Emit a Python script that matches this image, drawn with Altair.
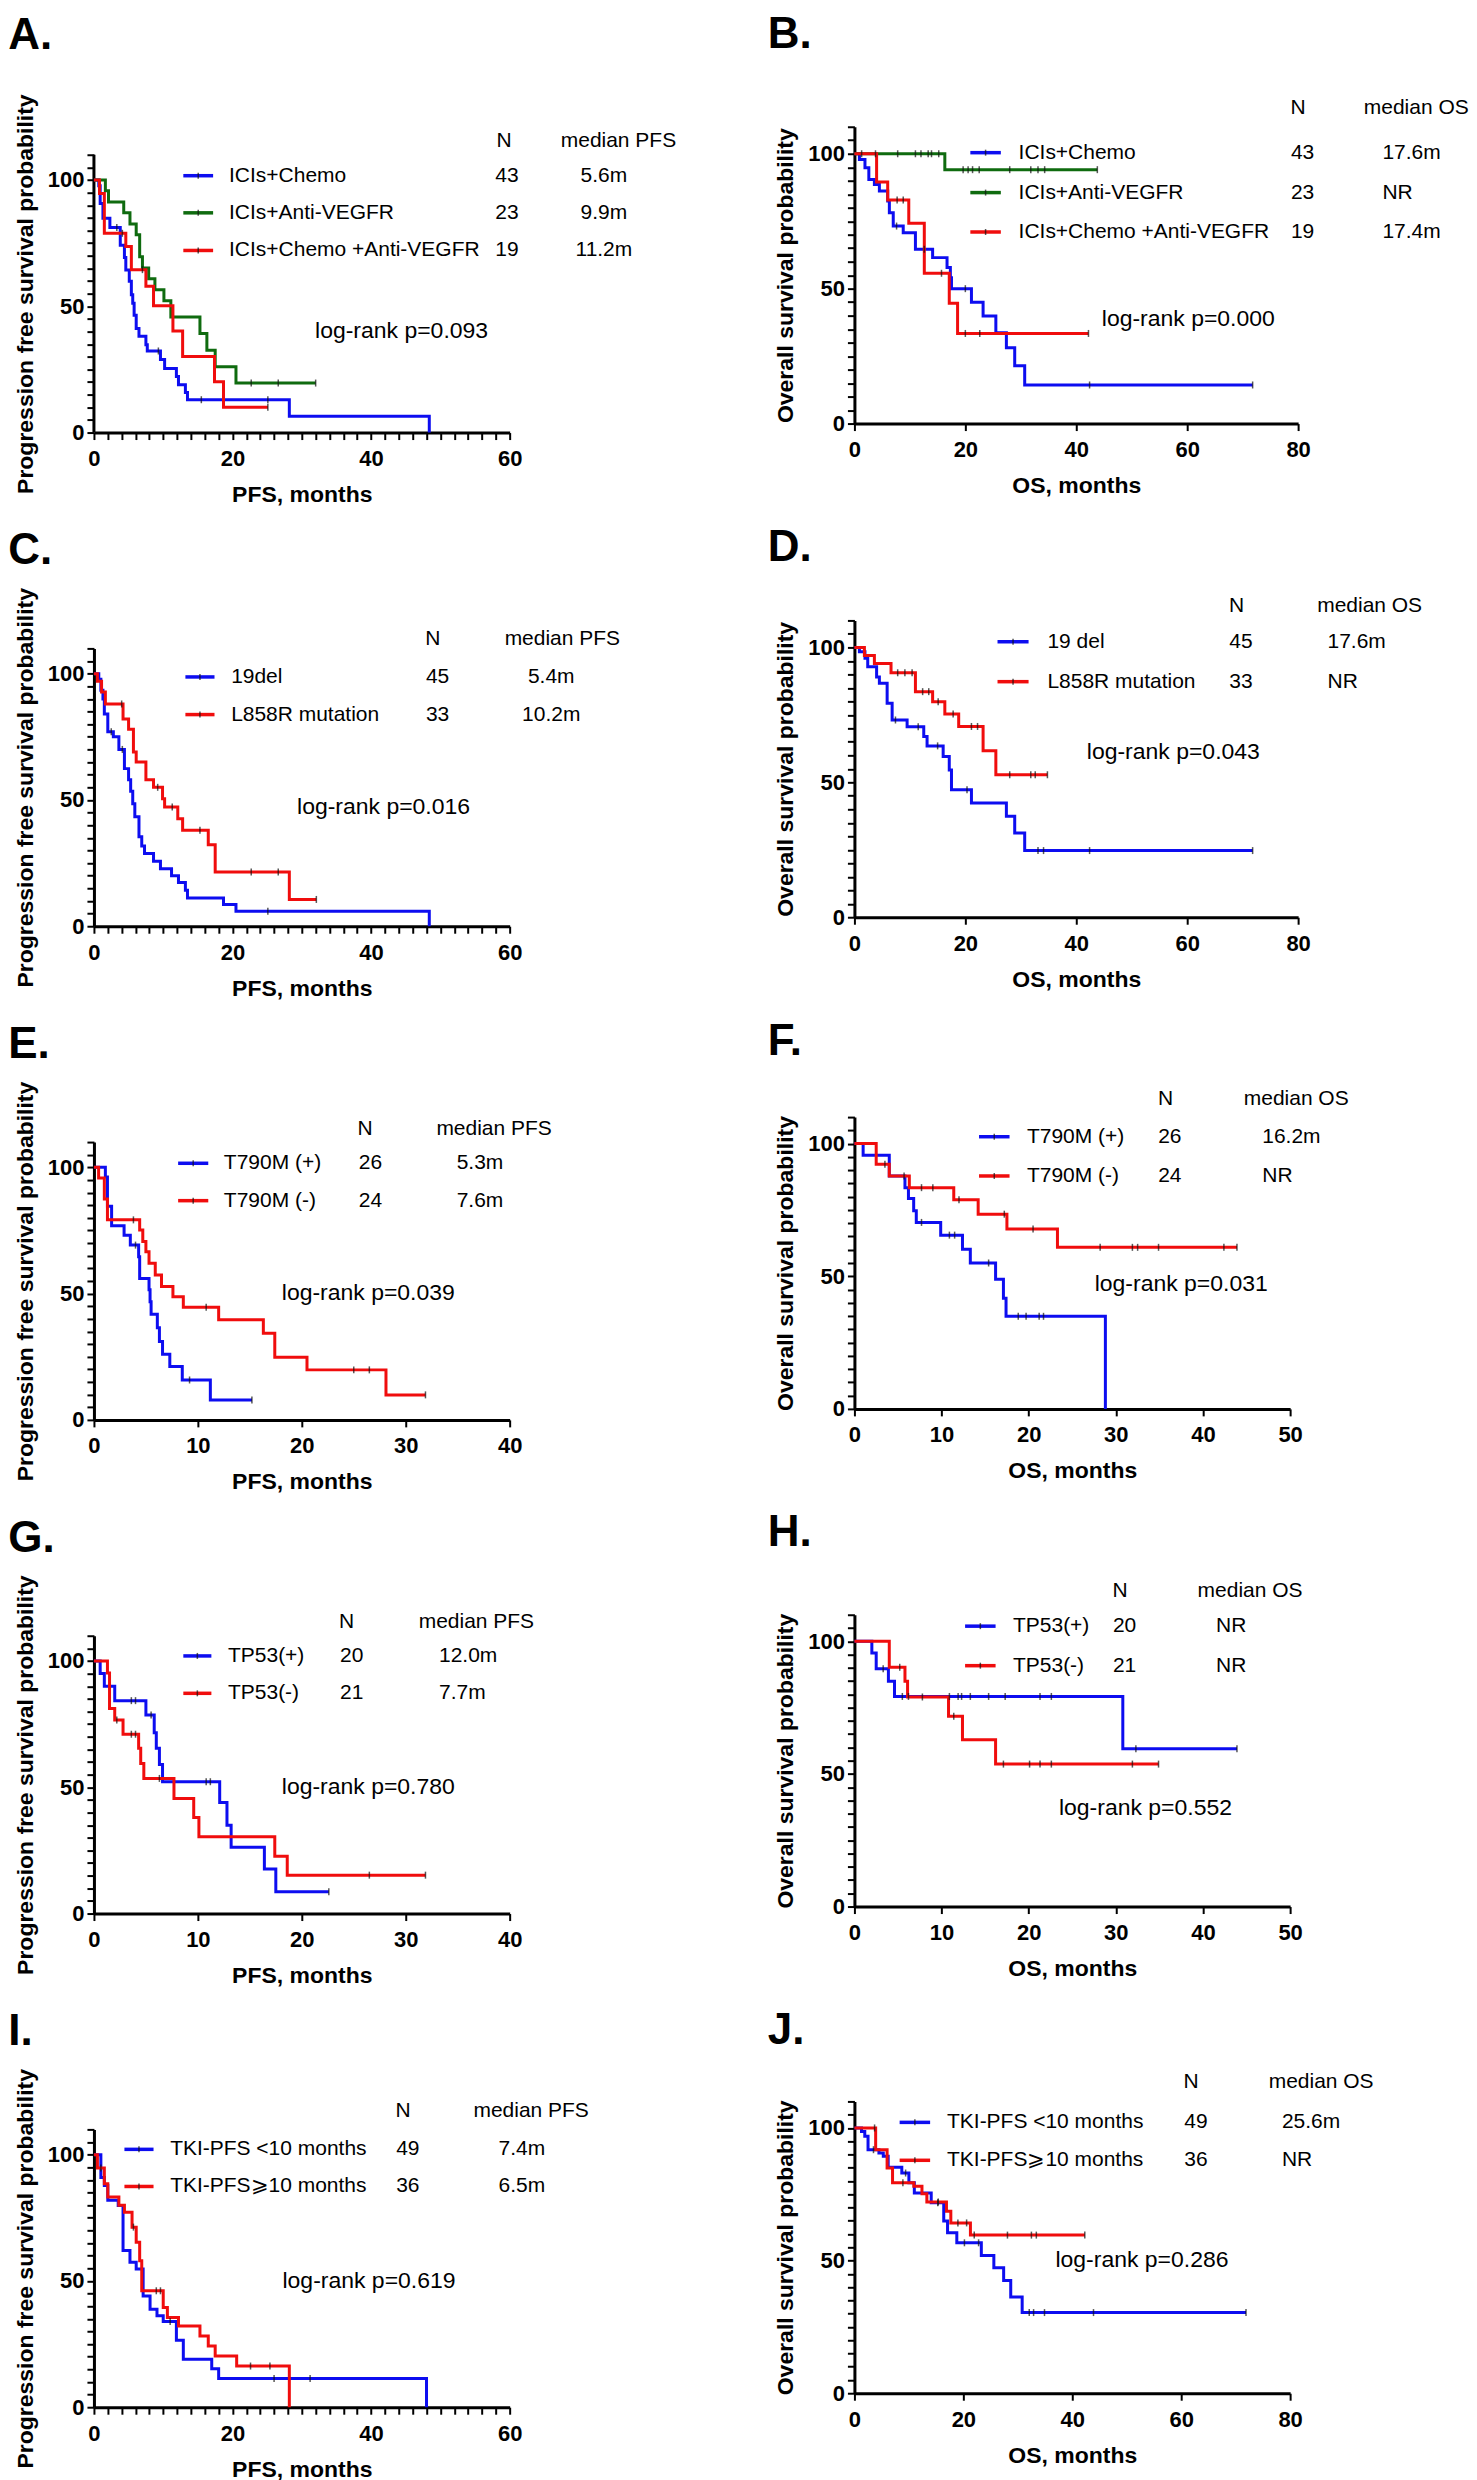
import altair as alt
import pandas as pd

FONT = "Liberation Sans"
BLUE, RED, GREEN = "#0d0df0", "#f00d0d", "#0f6b0f"

# ---------------- Panel A : PFS by treatment ----------------
A_blue_t = [0, 0.7, 0.9, 1.3, 2.3, 3.8, 4.4, 4.6, 5.1, 5.4, 5.6, 5.8, 6.1, 6.5, 7.5, 7.7, 9.6, 10.2, 11.9, 12.2, 13.2, 13.5, 28.2, 48.4]
A_blue_s = [100, 97.7, 90.7, 84.9, 81.2, 74.2, 69.3, 64.4, 59.9, 54.6, 51.2, 46.4, 41.2, 38.1, 34.8, 32.3, 28.9, 25.4, 22.2, 18.9, 15.9, 13.0, 6.5, 0]
A_blue_ct = [3.3, 9.3, 15.5, 25.1]
A_blue_cs = [81.2, 32.3, 13.0, 13.0]
A_green_t = [0, 1.65, 2.1, 4.3, 5.2, 6.1, 6.6, 7.0, 7.9, 8.8, 10.1, 11.1, 15.3, 16.3, 17.5, 20.5, 32.0]
A_green_s = [100, 95.7, 91.3, 87.0, 82.6, 78.3, 69.6, 65.2, 60.9, 56.5, 52.2, 45.8, 39.2, 32.6, 26.1, 19.6, 19.6]
A_green_ct = [22.7, 26.6, 32.0]
A_green_cs = [19.6, 19.6, 19.6]
A_red_t = [0, 0.8, 1.5, 4.6, 5.4, 7.5, 8.6, 11.4, 12.8, 17.4, 18.7, 25.1]
A_red_s = [100, 94.7, 78.9, 73.7, 64.5, 57.9, 50.2, 40.2, 30.1, 20.1, 10.0, 10.0]
A_red_ct = [4.1, 7.0, 25.1]
A_red_cs = [78.9, 64.5, 10.0]

# ---------------- Panel B : OS by treatment ----------------
B_blue_t = [0, 0.9, 1.9, 2.6, 3.6, 4.5, 6.0, 6.3, 7.0, 8.8, 11.0, 14.1, 16.7, 17.3, 17.5, 21.1, 23.2, 25.5, 27.4, 28.9, 30.7, 71.8]
B_blue_s = [100, 97.9, 94.8, 90.5, 88.6, 86.2, 82.5, 78.1, 73.2, 70.7, 64.6, 61.5, 57.8, 54.0, 50.0, 45.0, 39.9, 33.7, 28.1, 21.4, 14.3, 14.3]
B_blue_ct = [7.6, 12.6, 20.0, 42.4, 71.8]
B_blue_cs = [73.2, 64.6, 50.0, 14.3, 14.3]
B_green_t = [0, 16.3, 43.8]
B_green_s = [100, 94.1, 94.1]
B_green_ct = [1.3, 3.8, 7.8, 11.0, 12.0, 13.3, 13.9, 15.2, 19.6, 20.5, 21.3, 22.5, 28.0, 31.8, 33.1, 34.3, 43.8]
B_green_cs = [100, 100, 100, 100, 100, 100, 100, 100, 94.1, 94.1, 94.1, 94.1, 94.1, 94.1, 94.1, 94.1, 94.1]
B_red_t = [0, 4.0, 6.0, 9.8, 12.6, 17.1, 18.6, 42.2]
B_red_s = [100, 89.5, 82.9, 74.2, 55.7, 44.6, 33.4, 33.4]
B_red_ct = [7.7, 8.8, 15.7, 20.0, 22.6, 42.2]
B_red_cs = [82.9, 82.9, 55.7, 33.4, 33.4, 33.4]

# ---------------- Panel C : PFS by mutation ----------------
C_blue_t = [0, 0.7, 1.0, 1.3, 1.5, 2.0, 2.8, 3.6, 4.4, 5.0, 5.3, 5.6, 5.9, 6.5, 6.9, 7.3, 8.6, 9.6, 11.2, 12.2, 13.2, 13.5, 18.7, 20.5, 48.4]
C_blue_s = [100, 97.8, 93.4, 90.0, 84.0, 77.0, 75.0, 70.0, 62.4, 58.0, 53.4, 48.5, 43.3, 35.4, 31.8, 28.8, 25.7, 22.8, 20.0, 17.3, 14.2, 11.2, 8.6, 5.9, 0]
C_blue_ct = [2.5, 4.1, 25.1]
C_blue_cs = [77.0, 70.0, 5.9]
C_red_t = [0, 0.5, 1.1, 1.65, 4.2, 5.0, 5.7, 6.1, 7.5, 8.6, 9.9, 10.2, 12.1, 12.8, 16.5, 17.5, 28.2, 32.1]
C_red_s = [100, 97.0, 92.7, 88.0, 82.0, 78.0, 69.0, 65.0, 58.0, 55.0, 50.5, 47.2, 42.6, 38.0, 32.3, 21.5, 10.6, 10.6]
C_red_ct = [4.0, 9.2, 11.3, 15.3, 22.7, 26.6, 32.1]
C_red_cs = [88.0, 55.0, 47.2, 38.0, 21.5, 21.5, 10.6]

# ---------------- Panel D : OS by mutation ----------------
D_blue_t = [0, 0.9, 1.9, 2.4, 4.0, 4.5, 5.9, 6.8, 9.5, 12.5, 13.1, 16.0, 17.1, 17.5, 21.1, 27.4, 28.9, 30.7, 71.8]
D_blue_s = [100, 98.4, 96.0, 92.8, 89.0, 86.7, 79.3, 73.1, 70.6, 67.0, 63.5, 59.6, 54.6, 47.2, 42.3, 37.4, 31.2, 24.7, 24.7]
D_blue_ct = [7.4, 11.5, 15.0, 20.3, 33.1, 34.1, 42.4, 71.8]
D_blue_cs = [73.1, 70.6, 63.5, 47.2, 24.7, 24.7, 24.7, 24.7]
D_red_t = [0, 1.8, 3.6, 6.6, 11.0, 14.1, 16.3, 18.8, 23.2, 25.5, 34.8]
D_red_s = [100, 97.0, 94.0, 90.6, 83.6, 79.9, 75.3, 70.7, 61.7, 52.8, 52.8]
D_red_ct = [7.8, 9.1, 10.4, 12.3, 13.4, 15.1, 17.8, 21.1, 22.2, 28.0, 31.8, 32.6, 34.8]
D_red_cs = [90.6, 90.6, 90.6, 83.6, 83.6, 79.9, 75.3, 70.7, 70.7, 52.8, 52.8, 52.8, 52.8]

# ---------------- Panel E : PFS by T790M ----------------
E_blue_t = [0, 1.1, 1.3, 1.7, 2.9, 3.5, 4.3, 4.4, 5.3, 5.4, 5.5, 6.1, 6.3, 6.6, 7.3, 8.5, 11.2, 15.2]
E_blue_s = [100, 96.2, 84.6, 76.9, 73.1, 69.2, 64.6, 56.0, 51.5, 46.8, 41.8, 36.5, 31.0, 26.0, 21.1, 15.8, 7.9, 7.9]
E_blue_ct = [4.0, 9.2, 15.2]
E_blue_cs = [69.2, 15.8, 7.9]
E_red_t = [0, 0.45, 1.0, 1.3, 4.4, 4.7, 5.0, 5.3, 5.9, 6.5, 7.6, 8.6, 12.0, 16.3, 17.4, 20.5, 28.1, 31.9]
E_red_s = [100, 95.8, 87.5, 79.2, 75.2, 70.6, 66.6, 62.0, 57.4, 52.8, 48.8, 44.6, 39.6, 34.3, 24.8, 19.8, 9.9, 9.9]
E_red_ct = [3.8, 10.8, 25.0, 26.5, 31.9]
E_red_cs = [79.2, 44.6, 19.8, 19.8, 9.9]

# ---------------- Panel F : OS by T790M ----------------
F_blue_t = [0, 1.0, 4.0, 5.8, 6.2, 6.8, 7.1, 9.9, 12.4, 13.3, 16.2, 17.1, 17.4, 28.8]
F_blue_s = [100, 95.6, 87.8, 83.4, 79.3, 74.7, 70.3, 65.5, 60.2, 55.0, 48.9, 41.7, 34.9, 0]
F_blue_ct = [5.7, 7.7, 10.9, 11.5, 15.4, 18.8, 19.7, 21.2, 21.7]
F_blue_cs = [87.8, 70.3, 65.5, 65.5, 55.0, 34.9, 34.9, 34.9, 34.9]
F_red_t = [0, 2.5, 4.0, 6.3, 11.4, 14.2, 17.5, 23.3, 43.9]
F_red_s = [100, 92.2, 87.8, 83.4, 78.8, 73.4, 67.8, 60.9, 60.9]
F_red_ct = [3.5, 7.7, 9.0, 12.0, 17.2, 20.5, 28.2, 31.9, 32.5, 34.9, 42.4, 43.9]
F_red_cs = [92.2, 83.4, 83.4, 78.8, 73.4, 67.8, 60.9, 60.9, 60.9, 60.9, 60.9, 60.9]

# ---------------- Panel G : PFS by TP53 ----------------
G_blue_t = [0, 0.6, 1.0, 2.0, 5.0, 5.8, 6.0, 6.3, 6.6, 12.1, 12.8, 13.2, 16.4, 17.5, 22.6]
G_blue_s = [100, 95.0, 90.0, 84.3, 78.6, 71.6, 65.4, 59.0, 52.2, 44.0, 35.0, 26.2, 17.6, 8.6, 8.6]
G_blue_ct = [3.6, 4.0, 5.5, 10.8, 11.2, 22.6]
G_blue_cs = [84.3, 84.3, 78.6, 52.2, 52.2, 8.6]
G_red_t = [0, 1.3, 1.5, 2.0, 2.8, 4.3, 4.5, 4.8, 7.7, 9.6, 10.1, 17.4, 18.6, 31.9]
G_red_s = [100, 95.2, 81.2, 76.6, 71.0, 65.4, 59.4, 53.5, 45.6, 38.0, 30.4, 22.7, 15.2, 15.2]
G_red_ct = [2.2, 3.6, 4.0, 6.3, 26.5, 31.9]
G_red_cs = [76.6, 71.0, 71.0, 53.5, 15.2, 15.2]

# ---------------- Panel H : OS by TP53 ----------------
H_blue_t = [0, 2.0, 2.5, 3.9, 4.6, 30.8, 43.9]
H_blue_s = [100, 95.6, 89.6, 84.9, 79.2, 59.5, 59.5]
H_blue_ct = [3.3, 5.5, 6.2, 10.9, 11.9, 12.3, 13.3, 15.4, 17.3, 21.3, 22.6, 32.3, 43.9]
H_blue_cs = [89.6, 79.2, 79.2, 79.2, 79.2, 79.2, 79.2, 79.2, 79.2, 79.2, 79.2, 59.5, 59.5]
H_red_t = [0, 4.0, 5.8, 6.1, 10.8, 12.4, 16.2, 34.9]
H_red_s = [100, 90.2, 84.9, 79.0, 71.7, 62.9, 53.7, 53.7]
H_red_ct = [5.2, 7.8, 11.4, 17.1, 20.1, 21.3, 22.6, 31.9, 34.9]
H_red_cs = [90.2, 79.0, 71.7, 53.7, 53.7, 53.7, 53.7, 53.7, 53.7]

# ---------------- Panel I : PFS by TKI-PFS ----------------
I_blue_t = [0, 1.0, 1.5, 2.0, 3.5, 4.2, 5.2, 6.1, 7.1, 8.1, 9.1, 10.0, 11.9, 12.9, 17.0, 18.0, 48.0]
I_blue_s = [100, 91.0, 87.8, 81.9, 79.9, 62.0, 57.4, 54.7, 44.0, 38.8, 36.2, 33.9, 26.5, 19.0, 15.2, 11.4, 0]
I_blue_ct = [11.0, 26.0, 31.2]
I_blue_cs = [33.9, 11.4, 11.4]
I_red_t = [0, 0.5, 1.5, 2.0, 3.6, 4.4, 5.5, 6.1, 6.6, 6.9, 10.0, 10.6, 12.2, 15.3, 16.5, 17.5, 20.6, 28.2]
I_red_s = [100, 94.7, 88.5, 83.2, 80.0, 77.2, 71.3, 65.3, 58.0, 46.1, 39.5, 35.5, 32.2, 28.2, 24.2, 20.3, 16.3, 0]
I_red_ct = [1.0, 5.7, 9.0, 9.6, 22.6, 25.4]
I_red_cs = [94.7, 71.3, 46.1, 46.1, 16.3, 16.3]

# ---------------- Panel J : OS by TKI-PFS ----------------
J_blue_t = [0, 1.3, 1.9, 2.5, 4.5, 5.3, 6.2, 8.7, 10.0, 11.0, 14.1, 16.4, 17.1, 18.8, 23.3, 25.6, 27.4, 28.7, 30.8, 71.9]
J_blue_s = [100, 98.7, 96.9, 91.8, 90.6, 89.3, 85.2, 83.0, 79.3, 75.5, 71.8, 64.9, 60.5, 56.7, 51.9, 47.3, 42.5, 36.3, 30.4, 30.4]
J_blue_ct = [3.5, 9.4, 15.3, 20.2, 22.8, 32.1, 32.9, 34.9, 43.9, 71.9]
J_blue_cs = [91.8, 83.0, 71.8, 56.7, 56.7, 30.4, 30.4, 30.4, 30.4, 30.4]
J_red_t = [0, 3.9, 6.0, 7.0, 10.9, 12.4, 13.3, 16.9, 17.7, 21.3, 42.3]
J_red_s = [100, 91.8, 84.9, 79.3, 78.0, 75.2, 72.1, 68.6, 64.2, 59.6, 59.6]
J_red_ct = [3.7, 8.9, 15.4, 19.0, 20.6, 22.0, 28.1, 32.5, 33.4, 42.3]
J_red_cs = [100, 79.3, 72.1, 64.2, 64.2, 59.6, 59.6, 59.6, 59.6, 59.6]

# ---------------- legend / annotation texts ----------------
A_labels = ["ICIs+Chemo", "ICIs+Anti-VEGFR", "ICIs+Chemo +Anti-VEGFR"]
A_n = ["43", "23", "19"]
A_med = ["5.6m", "9.9m", "11.2m"]
B_labels = ["ICIs+Chemo", "ICIs+Anti-VEGFR", "ICIs+Chemo +Anti-VEGFR"]
B_n = ["43", "23", "19"]
B_med = ["17.6m", "NR", "17.4m"]
C_labels = ["19del", "L858R mutation"]
C_n = ["45", "33"]
C_med = ["5.4m", "10.2m"]
D_labels = ["19 del", "L858R mutation"]
D_n = ["45", "33"]
D_med = ["17.6m", "NR"]
E_labels = ["T790M (+)", "T790M (-)"]
E_n = ["26", "24"]
E_med = ["5.3m", "7.6m"]
F_labels = ["T790M (+)", "T790M (-)"]
F_n = ["26", "24"]
F_med = ["16.2m", "NR"]
G_labels = ["TP53(+)", "TP53(-)"]
G_n = ["20", "21"]
G_med = ["12.0m", "7.7m"]
H_labels = ["TP53(+)", "TP53(-)"]
H_n = ["20", "21"]
H_med = ["NR", "NR"]
I_labels = ["TKI-PFS <10 months", "TKI-PFS\u2a7e10 months"]
I_n = ["49", "36"]
I_med = ["7.4m", "6.5m"]
J_labels = ["TKI-PFS <10 months", "TKI-PFS\u2a7e10 months"]
J_n = ["49", "36"]
J_med = ["25.6m", "NR"]
pvals = {"A": "log-rank p=0.093", "B": "log-rank p=0.000", "C": "log-rank p=0.016",
         "D": "log-rank p=0.043", "E": "log-rank p=0.039", "F": "log-rank p=0.031",
         "G": "log-rank p=0.780", "H": "log-rank p=0.552", "I": "log-rank p=0.619",
         "J": "log-rank p=0.286"}

PFS_T = "Progression free survival probability"
OS_T = "Overall survival probability"

panels_cfg = [
    dict(letter="A", xmax=60, major=20, minor=2, w=416, h=278, head=28, ytitle=PFS_T, xtitle="PFS, months", hdr="median PFS",
         series=[(A_labels[0], BLUE, A_blue_t, A_blue_s, A_blue_ct, A_blue_cs),
                 (A_labels[1], GREEN, A_green_t, A_green_s, A_green_ct, A_green_cs),
                 (A_labels[2], RED, A_red_t, A_red_s, A_red_ct, A_red_cs)],
         n=A_n, med=A_med, hy=115.5, nx=59.2, mhx=75.7, rows=[101.7, 87.0, 72.1], lx=(12.9, 17.2), labx=19.5,
         numx=59.6, medx=73.6, medalign="center", pr=(44.4, 40.1), toff=36, dx=-6),
    dict(letter="B", xmax=80, major=20, minor=20, w=444, h=297, head=0, ytitle=OS_T, xtitle="OS, months", hdr="median OS",
         series=[(B_labels[0], BLUE, B_blue_t, B_blue_s, B_blue_ct, B_blue_cs),
                 (B_labels[1], GREEN, B_green_t, B_green_s, B_green_ct, B_green_cs),
                 (B_labels[2], RED, B_red_t, B_red_s, B_red_ct, B_red_cs)],
         n=B_n, med=B_med, hy=116.8, nx=80.0, mhx=101.3, rows=[100.4, 85.6, 71.0], lx=(20.9, 26.4), labx=29.6,
         numx=80.8, medx=95.2, medalign="left", pr=(60.2, 38.6), toff=40, dx=-7),
    dict(letter="C", xmax=60, major=20, minor=2, w=416, h=278, head=0, ytitle=PFS_T, xtitle="PFS, months", hdr="median PFS",
         series=[(C_labels[0], BLUE, C_blue_t, C_blue_s, C_blue_ct, C_blue_cs),
                 (C_labels[1], RED, C_red_t, C_red_s, C_red_ct, C_red_cs)],
         n=C_n, med=C_med, hy=113.6, nx=48.9, mhx=67.6, rows=[98.7, 83.8], lx=(13.2, 17.4), labx=19.8,
         numx=49.6, medx=66.0, medalign="center", pr=(41.8, 47.2), toff=14, dx=-6),
    dict(letter="D", xmax=80, major=20, minor=20, w=444, h=297, head=0, ytitle=OS_T, xtitle="OS, months", hdr="median OS",
         series=[(D_labels[0], BLUE, D_blue_t, D_blue_s, D_blue_ct, D_blue_cs),
                 (D_labels[1], RED, D_red_t, D_red_s, D_red_ct, D_red_cs)],
         n=D_n, med=D_med, hy=115.3, nx=68.9, mhx=92.9, rows=[102.1, 87.3], lx=(25.8, 31.4), labx=34.8,
         numx=69.7, medx=85.3, medalign="left", pr=(57.5, 61.4), toff=25, dx=-7),
    dict(letter="E", xmax=40, major=10, minor=10, w=416, h=278, head=0, ytitle=PFS_T, xtitle="PFS, months", hdr="median PFS",
         series=[(E_labels[0], BLUE, E_blue_t, E_blue_s, E_blue_ct, E_blue_cs),
                 (E_labels[1], RED, E_red_t, E_red_s, E_red_ct, E_red_cs)],
         n=E_n, med=E_med, hy=115.2, nx=26.1, mhx=38.5, rows=[101.6, 86.8], lx=(8.1, 11.0), labx=12.5,
         numx=26.6, medx=34.9, medalign="left", pr=(26.4, 50.4), toff=14, dx=-6),
    dict(letter="F", xmax=50, major=10, minor=10, w=436, h=292, head=0, ytitle=OS_T, xtitle="OS, months", hdr="median OS",
         series=[(F_labels[0], BLUE, F_blue_t, F_blue_s, F_blue_ct, F_blue_cs),
                 (F_labels[1], RED, F_red_t, F_red_s, F_red_ct, F_red_cs)],
         n=F_n, med=F_med, hy=116.9, nx=35.7, mhx=50.7, rows=[102.6, 87.8], lx=(14.3, 17.8), labx=19.8,
         numx=36.2, medx=46.8, medalign="left", pr=(37.5, 47.1), toff=24, dx=-7),
    dict(letter="G", xmax=40, major=10, minor=10, w=416, h=278, head=0, ytitle=PFS_T, xtitle="PFS, months", hdr="median PFS",
         series=[(G_labels[0], BLUE, G_blue_t, G_blue_s, G_blue_ct, G_blue_cs),
                 (G_labels[1], RED, G_red_t, G_red_s, G_red_ct, G_red_cs)],
         n=G_n, med=G_med, hy=115.3, nx=24.3, mhx=36.8, rows=[102.0, 87.2], lx=(8.6, 11.3), labx=12.9,
         numx=24.8, medx=33.2, medalign="left", pr=(26.4, 50.2), toff=14, dx=-6),
    dict(letter="H", xmax=50, major=10, minor=10, w=436, h=292, head=0, ytitle=OS_T, xtitle="OS, months", hdr="median OS",
         series=[(H_labels[0], BLUE, H_blue_t, H_blue_s, H_blue_ct, H_blue_cs),
                 (H_labels[1], RED, H_red_t, H_red_s, H_red_ct, H_red_cs)],
         n=H_n, med=H_med, hy=118.9, nx=30.5, mhx=45.4, rows=[105.7, 90.8], lx=(12.7, 16.2), labx=18.2,
         numx=31.0, medx=41.5, medalign="left", pr=(33.4, 37.1), toff=25, dx=-7),
    dict(letter="I", xmax=60, major=20, minor=2, w=416, h=278, head=0, ytitle=PFS_T, xtitle="PFS, months", hdr="median PFS",
         series=[(I_labels[0], BLUE, I_blue_t, I_blue_s, I_blue_ct, I_blue_cs),
                 (I_labels[1], RED, I_red_t, I_red_s, I_red_ct, I_red_cs)],
         n=I_n, med=I_med, hy=117.4, nx=44.6, mhx=63.1, rows=[102.1, 87.4], lx=(4.4, 8.6), labx=11.0,
         numx=45.3, medx=58.4, medalign="left", pr=(39.7, 50.1), toff=14, dx=-6),
    dict(letter="J", xmax=80, major=20, minor=20, w=436, h=292, head=0, ytitle=OS_T, xtitle="OS, months", hdr="median OS",
         series=[(J_labels[0], BLUE, J_blue_t, J_blue_s, J_blue_ct, J_blue_cs),
                 (J_labels[1], RED, J_red_t, J_red_s, J_red_ct, J_red_cs)],
         n=J_n, med=J_med, hy=117.3, nx=61.8, mhx=85.7, rows=[102.1, 87.8], lx=(8.3, 13.9), labx=17.0,
         numx=62.7, medx=78.5, medalign="left", pr=(52.8, 50.4), toff=18, dx=-7),
]

LEG_FS = 21
PR_FS = 23
YTOP = 110


def build_panel(cfg):
    head = cfg["head"]
    ymax = YTOP + head * YTOP / cfg["h"]
    xs = alt.Scale(domain=[0, cfg["xmax"]], nice=False, zero=True)
    ys = alt.Scale(domain=[0, ymax], nice=False, zero=True)
    names = [s[0] for s in cfg["series"]]

    xaxis = alt.Axis(values=list(range(0, cfg["xmax"] + 1, cfg["minor"])),
                     labelExpr=f"datum.value % {cfg['major']} == 0 ? datum.label : ''",
                     title=cfg["xtitle"])
    yax_kw = dict(values=list(range(0, YTOP + 1, 5)),
                  labelExpr="datum.value % 50 == 0 ? datum.label : ''",
                  title=cfg["ytitle"])
    if head > 0:
        yax_kw.update(domain=False, titleY=head + cfg["h"] / 2)
    yaxis = alt.Axis(**yax_kw)

    def X(f):
        return alt.X(f, type="quantitative", scale=xs, axis=xaxis)

    def Y(f):
        return alt.Y(f, type="quantitative", scale=ys, axis=yaxis)

    layers = []
    if head > 0:
        # y-axis line drawn only over the 0-110 range (the plot area has extra headroom)
        ax = pd.DataFrame({"t": [0], "s": [0], "s2": [YTOP]})
        layers.append(alt.Chart(ax).mark_rule(strokeWidth=3, color="black").encode(
            x=X("t"), y=Y("s"), y2="s2"))
    for k, (name, col, t, s, ct, cs) in enumerate(cfg["series"]):
        curve = pd.DataFrame({"t": t, "s": s, "i": list(range(len(t)))})
        layers.append(alt.Chart(curve).mark_line(
            interpolate="step-after", strokeWidth=3, color=col, clip=False).encode(
            x=X("t"), y=Y("s"), order=alt.Order("i:Q")))
        leg = pd.DataFrame({"t": [cfg["lx"][0]], "t2": [cfg["lx"][1]],
                            "tm": [(cfg["lx"][0] + cfg["lx"][1]) / 2], "s": [cfg["rows"][k]]})
        layers.append(alt.Chart(leg).mark_rule(strokeWidth=3.5, color=col).encode(
            x=X("t"), x2="t2", y=Y("s")))
        layers.append(alt.Chart(leg).mark_tick(orient="vertical", size=6, thickness=1.5,
                                               color="#111111").encode(x=X("tm"), y=Y("s")))
    for (name, col, t, s, ct, cs) in cfg["series"]:
        cens = pd.DataFrame({"t": ct, "s": cs})
        layers.append(alt.Chart(cens).mark_tick(orient="vertical", size=7, thickness=1.5,
                                                color="#111111").encode(x=X("t"), y=Y("s")))

    left_txt = [{"t": cfg["labx"], "s": cfg["rows"][k], "txt": names[k]} for k in range(len(names))]
    ctr_txt = [{"t": cfg["nx"], "s": cfg["hy"], "txt": "N"},
               {"t": cfg["mhx"], "s": cfg["hy"], "txt": cfg["hdr"]}]
    ctr_txt += [{"t": cfg["numx"], "s": cfg["rows"][k], "txt": cfg["n"][k]} for k in range(len(names))]
    med_txt = [{"t": cfg["medx"], "s": cfg["rows"][k], "txt": cfg["med"][k]} for k in range(len(names))]
    pr_txt = [{"t": cfg["pr"][0], "s": cfg["pr"][1], "txt": pvals[cfg["letter"]]}]

    layers.append(alt.Chart(pd.DataFrame(left_txt)).mark_text(
        align="left", baseline="middle", font=FONT, fontSize=LEG_FS, color="black").encode(
        x=X("t"), y=Y("s"), text="txt:N"))
    layers.append(alt.Chart(pd.DataFrame(ctr_txt)).mark_text(
        align="center", baseline="middle", font=FONT, fontSize=LEG_FS, color="black").encode(
        x=X("t"), y=Y("s"), text="txt:N"))
    layers.append(alt.Chart(pd.DataFrame(med_txt)).mark_text(
        align=cfg["medalign"], baseline="middle", font=FONT, fontSize=LEG_FS, color="black").encode(
        x=X("t"), y=Y("s"), text="txt:N"))
    layers.append(alt.Chart(pd.DataFrame(pr_txt)).mark_text(
        align="center", baseline="middle", font=FONT, fontSize=PR_FS, color="black").encode(
        x=X("t"), y=Y("s"), text="txt:N"))

    return alt.layer(*layers).properties(
        width=cfg["w"], height=cfg["h"] + head,
        title=alt.TitleParams(cfg["letter"] + ".", anchor="start", font=FONT, fontSize=44,
                              fontWeight="bold", color="black", offset=cfg["toff"], dx=cfg["dx"]))


panels = [build_panel(c) for c in panels_cfg]
left_col = alt.vconcat(*panels[0::2], spacing=22)
right_col = alt.vconcat(*panels[1::2], spacing=28)

chart = alt.hconcat(left_col, right_col, spacing=91).properties(
    padding={"top": 4, "left": 0, "right": 0, "bottom": 0}).configure_view(
    stroke=None).configure_axis(
    grid=False, domainColor="black", domainWidth=3, tickColor="black", tickWidth=2, tickSize=7,
    labelColor="black", labelFont=FONT, labelFontSize=22, labelFontWeight="bold",
    labelFlush=False, labelOverlap=False, titleColor="black", titleFont=FONT, titleFontSize=23,
    titleFontWeight="bold").configure_axisX(labelPadding=9, titlePadding=14).configure_axisY(
    labelPadding=3, titlePadding=10)

chart.save("out.html", embed_options={"renderer": "svg", "actions": False})
